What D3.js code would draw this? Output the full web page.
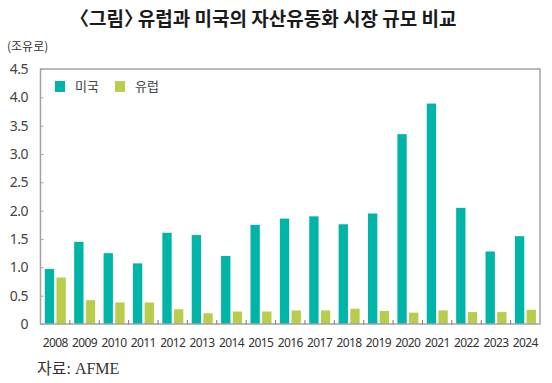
<!DOCTYPE html>
<html>
<head>
<meta charset="utf-8">
<script src="https://cdn.jsdelivr.net/npm/d3@7"></script>
<style>
  body { margin: 0; background: #fff; }
  svg { display: block; }
</style>
</head>
<body>
<svg id="chart" width="552" height="383"></svg>
<script>
const years = ["2008", "2009", "2010", "2011", "2012", "2013", "2014", "2015", "2016",
  "2017", "2018", "2019", "2020", "2021", "2022", "2023", "2024"];
const usValues = [0.97, 1.45, 1.25, 1.07, 1.61, 1.57, 1.20, 1.75, 1.86,
  1.90, 1.76, 1.95, 3.35, 3.89, 2.05, 1.28, 1.55];
const euValues = [0.82, 0.42, 0.38, 0.38, 0.26, 0.19, 0.22, 0.22, 0.24,
  0.24, 0.27, 0.23, 0.20, 0.24, 0.21, 0.21, 0.25];
const seriesNames = ["미국", "유럽"];
const yTicks = [0, 0.5, 1.0, 1.5, 2.0, 2.5, 3.0, 3.5, 4.0, 4.5];

const colors = { "미국": "#00b5a8", "유럽": "#b9cc4b" };
const axisColor = "#a3a3a3";
const textColor = "#333";

const svg = d3.select("#chart");
const plot = { left: 40.5, right: 540, top: 69, bottom: 324 };

const x = d3.scaleBand().domain(years).range([plot.left, plot.right]);
const xInner = d3.scaleBand().domain(seriesNames).range([4.3, 25.3]).paddingInner(0.2);
const y = d3.scaleLinear().domain([0, 4.5]).range([plot.bottom, plot.top]);

// title; "halt" makes the full-width brackets half-width
svg.append("text")
  .attr("x", 268)
  .attr("y", 26)
  .attr("text-anchor", "middle")
  .style("font-family", "'Noto Sans CJK KR', sans-serif")
  .style("font-size", "19px")
  .style("font-weight", "bold")
  .style("font-feature-settings", "'halt'")
  .style("fill", "#1a1a1a")
  .text("〈그림〉 유럽과 미국의 자산유동화 시장 규모 비교");

// unit
svg.append("text")
  .attr("x", 7)
  .attr("y", 51)
  .style("font-family", "'Noto Sans CJK KR', sans-serif")
  .style("font-size", "12px")
  .style("fill", textColor)
  .text("(조유로)");

// bars
const rows = years.map((yr, i) => ({ year: yr, values: [usValues[i], euValues[i]] }));
const groups = svg.append("g").selectAll("g")
  .data(rows)
  .enter().append("g")
  .attr("transform", d => `translate(${x(d.year)},0)`);

groups.selectAll("rect")
  .data(d => seriesNames.map((name, j) => ({ name, value: d.values[j] })))
  .enter().append("rect")
  .attr("x", d => xInner(d.name))
  .attr("width", xInner.bandwidth())
  .attr("y", d => y(d.value))
  .attr("height", d => y(0) - y(d.value))
  .attr("fill", d => colors[d.name]);

// frame
svg.append("rect")
  .attr("x", plot.left)
  .attr("y", plot.top)
  .attr("width", plot.right - plot.left)
  .attr("height", plot.bottom - plot.top)
  .attr("fill", "none")
  .attr("stroke", axisColor)
  .attr("stroke-width", 1.5);

// y axis, ticks pointing inward
const yAxis = svg.append("g")
  .attr("transform", `translate(${plot.left},0)`)
  .call(d3.axisRight(y).tickValues(yTicks).tickSize(3).tickFormat(""));
yAxis.select(".domain").remove();
yAxis.selectAll("line").attr("stroke", axisColor);

svg.append("g").selectAll("text")
  .data(yTicks)
  .enter().append("text")
  .attr("x", 28)
  .attr("y", d => y(d) + 5)
  .attr("text-anchor", "end")
  .style("font-family", "'Noto Sans', sans-serif")
  .style("font-size", "14px")
  .style("letter-spacing", "-0.5px")
  .style("fill", "#444")
  .text(d => d === 0 ? "0" : d3.format(".1f")(d));

// x ticks at category boundaries, pointing up
const boundaries = years.slice(1).map(yr => x(yr));
svg.append("g").selectAll("line")
  .data(boundaries)
  .enter().append("line")
  .attr("x1", d => d)
  .attr("x2", d => d)
  .attr("y1", plot.bottom)
  .attr("y2", plot.bottom - 4)
  .attr("stroke", "#777");

svg.append("g").selectAll("text")
  .data(years)
  .enter().append("text")
  .attr("x", d => x(d) + x.bandwidth() / 2)
  .attr("y", 347)
  .attr("text-anchor", "middle")
  .style("font-family", "'Noto Sans', sans-serif")
  .style("font-size", "12px")
  .style("letter-spacing", "-0.6px")
  .style("fill", "#333")
  .text(d => d);

// legend
const legend = svg.append("g").attr("transform", "translate(55,81)");
seriesNames.forEach((name, i) => {
  const row = legend.append("g").attr("transform", `translate(${i * 60},0)`);
  row.append("rect")
    .attr("width", 10)
    .attr("height", 11)
    .attr("fill", colors[name]);
  row.append("text")
    .attr("x", 20)
    .attr("y", 10)
    .style("font-family", "'Noto Sans CJK KR', sans-serif")
    .style("font-size", "13px")
    .style("fill", "#444")
    .text(name);
});

// source
svg.append("text")
  .attr("x", 37)
  .attr("y", 374)
  .style("font-family", "'Liberation Serif', 'Noto Sans CJK KR', serif")
  .style("font-size", "16px")
  .style("fill", "#333")
  .text("자료: AFME");
</script>
</body>
</html>
